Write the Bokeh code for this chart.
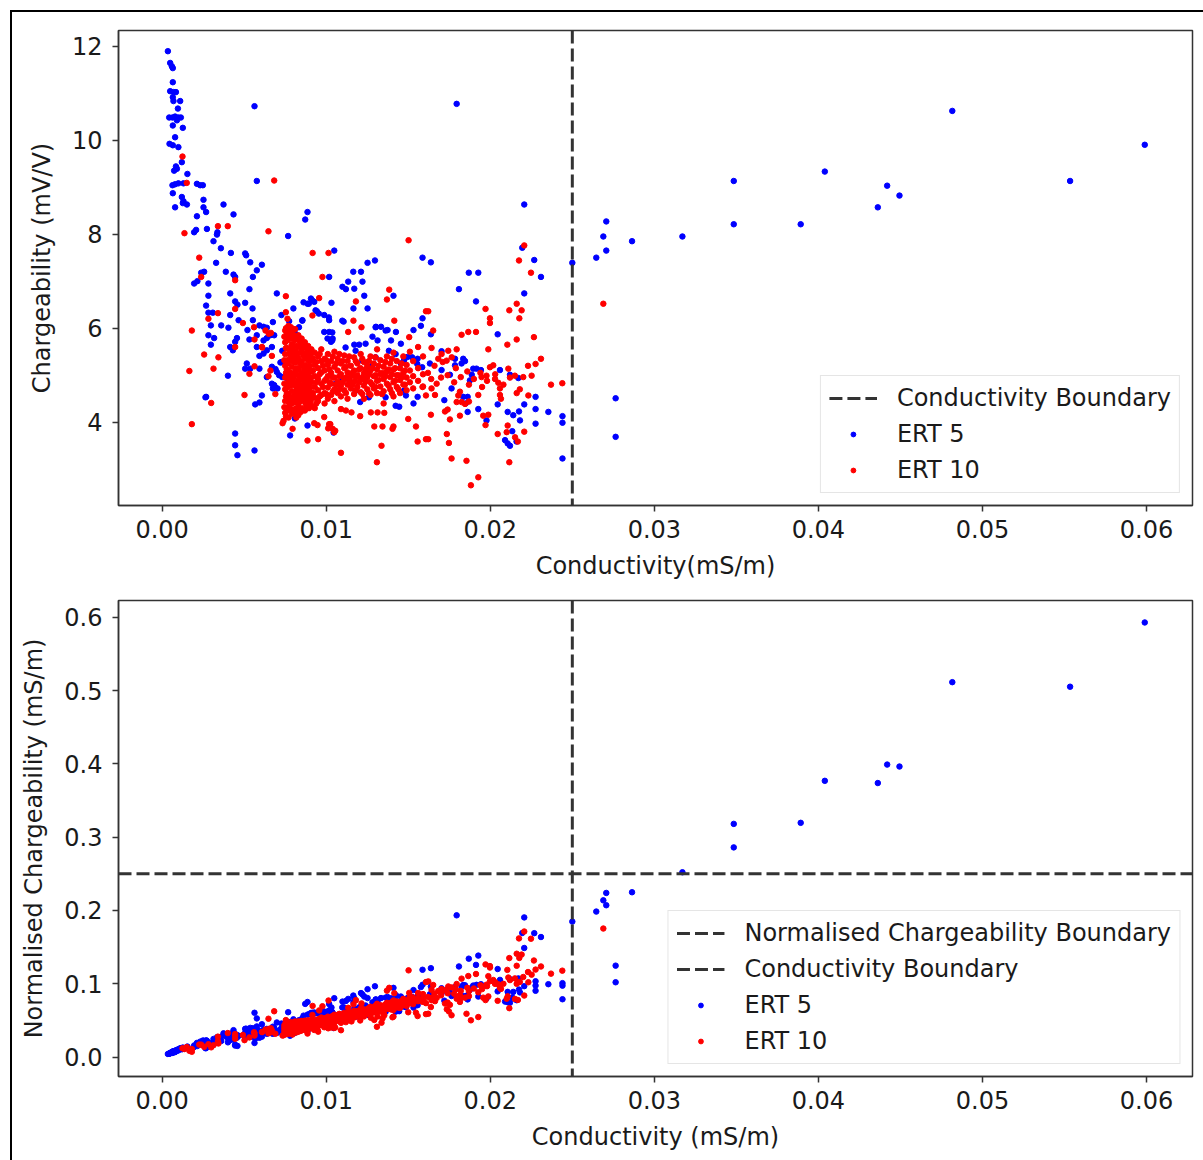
import numpy as np
from bokeh.plotting import figure
from bokeh.models import Range1d, Span, Legend, LegendItem, FixedTicker, NumeralTickFormatter
from bokeh.layouts import column
from bokeh.embed import file_html
from bokeh.resources import INLINE

# ---------------- data ----------------
conductivity_boundary = 0.025
normalised_boundary = 0.25

x_ticks = [0.00, 0.01, 0.02, 0.03, 0.04, 0.05, 0.06]
y_ticks_top = [4, 6, 8, 10, 12]
y_ticks_bottom = [0.0, 0.1, 0.2, 0.3, 0.4, 0.5, 0.6]

ert5_sigma = [
    0.00035, 0.00049, 0.00059, 0.00065, 0.00065, 0.00049, 0.00069, 0.00084, 0.00065, 0.00069,
    0.00110, 0.00096, 0.00043, 0.00063, 0.00079, 0.00099, 0.00114, 0.00090, 0.00065, 0.00126,
    0.00079, 0.00045, 0.00065, 0.00099, 0.00120, 0.00084, 0.00073, 0.00090, 0.00154, 0.00063,
    0.00079, 0.00099, 0.00130, 0.00212, 0.00232, 0.00248, 0.00065, 0.00120, 0.00130, 0.00151,
    0.00126, 0.00079, 0.00252, 0.00252, 0.00268, 0.00374, 0.00435, 0.00212, 0.00207, 0.00195,
    0.00273, 0.00337, 0.00334, 0.00313, 0.00358, 0.00419, 0.00506, 0.00512, 0.00537, 0.00608,
    0.00329, 0.00563, 0.00577, 0.00886, 0.00872, 0.00768, 0.01049, 0.01252, 0.01297, 0.01587,
    0.01795, 0.02207, 0.02195, 0.02268, 0.01638, 0.02500, 0.02646, 0.02707, 0.02689, 0.02707,
    0.02864, 0.03171, 0.03484, 0.03484, 0.03892, 0.04039, 0.04362, 0.04419, 0.04494, 0.04816,
    0.05534, 0.05989, 0.02764, 0.02764, 0.02440, 0.02440, 0.02440, 0.00238, 0.00256, 0.00195,
    0.00215, 0.00282, 0.00388, 0.00435, 0.00445, 0.00577, 0.00553, 0.00282, 0.00415, 0.00532,
    0.00445, 0.00506, 0.00459, 0.00268, 0.00551, 0.00282, 0.00309, 0.00415, 0.00466, 0.00553,
    0.00297, 0.00360, 0.00404, 0.00520, 0.00593, 0.00618, 0.00638, 0.00675, 0.00282, 0.00317,
    0.00297, 0.00456, 0.00445, 0.00532, 0.00577, 0.00618, 0.00638, 0.00659, 0.00415, 0.00431,
    0.00577, 0.00593, 0.00618, 0.00638, 0.00669, 0.00516, 0.00506, 0.00537, 0.00593, 0.00669,
    0.00638, 0.00669, 0.00675, 0.00401, 0.00268, 0.00608, 0.00567, 0.00593, 0.00445, 0.00445,
    0.00459, 0.00563, 0.01018, 0.01165, 0.01212, 0.01221, 0.01134, 0.01171, 0.01099, 0.01120,
    0.01232, 0.01166, 0.01252, 0.01410, 0.00699, 0.00907, 0.00886, 0.00927, 0.00943, 0.00862,
    0.00800, 0.00727, 0.00774, 0.00855, 0.01032, 0.00988, 0.01018, 0.01106, 0.00988, 0.01018,
    0.01008, 0.01039, 0.01029, 0.01303, 0.01334, 0.01374, 0.01425, 0.01282, 0.01313, 0.01395,
    0.01455, 0.01532, 0.01587, 0.01577, 0.01171, 0.01201, 0.00683, 0.00728, 0.00699, 0.00713,
    0.00683, 0.00703, 0.00764, 0.01476, 0.01496, 0.01455, 0.01557, 0.01282, 0.01252, 0.01207,
    0.01445, 0.01532, 0.01557, 0.01486, 0.00809, 0.00780, 0.00886, 0.01045, 0.00680, 0.00690,
    0.00780, 0.01057, 0.01098, 0.01138, 0.01179, 0.01260, 0.01362, 0.01423, 0.01474, 0.01524,
    0.01555, 0.01585, 0.01869, 0.01927, 0.02309, 0.01809, 0.02207, 0.01913, 0.01638, 0.02045,
    0.01703, 0.01785, 0.01835, 0.01825, 0.01785, 0.01846, 0.01896, 0.01916, 0.01943, 0.01887,
    0.01876, 0.02059, 0.02120, 0.02171, 0.01632, 0.01703, 0.01754, 0.01764, 0.01720, 0.02276,
    0.02207, 0.02276, 0.02354, 0.02276, 0.02175, 0.02140, 0.01835, 0.01862, 0.01850, 0.01862,
    0.01927, 0.02045, 0.02106, 0.02181, 0.02090, 0.02106, 0.02120, 0.02160, 0.02134, 0.01977,
    0.00732, 0.00762, 0.00783, 0.00691, 0.00721, 0.00732, 0.00813, 0.00834, 0.00894, 0.00915,
    0.00935, 0.00955, 0.00854, 0.01016, 0.01098, 0.01037, 0.01037, 0.01118, 0.01179, 0.01240,
    0.01301, 0.01362, 0.01220, 0.01260, 0.01301, 0.01382, 0.01423, 0.01474, 0.00264,
]
ert5_m = [
    11.89, 11.64, 11.57, 11.53, 11.23, 11.04, 11.02, 11.02, 10.91, 10.83,
    10.83, 10.67, 10.48, 10.48, 10.50, 10.48, 10.48, 10.42, 10.31, 10.26,
    10.06, 9.92, 9.89, 9.85, 9.53, 9.44, 9.35, 9.39, 9.28, 9.04,
    9.06, 9.08, 9.08, 9.07, 9.04, 9.04, 8.87, 8.79, 8.70, 8.63,
    8.66, 8.57, 8.73, 8.57, 8.47, 8.63, 8.42, 8.38, 8.09, 8.04,
    8.11, 8.04, 7.99, 7.85, 7.70, 7.60, 7.59, 7.55, 7.40, 7.35,
    7.39, 10.72, 9.13, 8.47, 8.31, 7.96, 7.65, 7.39, 7.44, 7.50,
    10.77, 8.63, 7.71, 7.45, 7.40, 7.39, 7.50, 7.65, 7.95, 8.27,
    7.85, 7.95, 8.21, 9.13, 8.21, 9.33, 8.57, 9.03, 8.82, 10.62,
    9.13, 9.90, 4.51, 3.69, 4.13, 3.99, 3.23, 7.18, 7.20, 6.95,
    7.00, 6.95, 7.20, 7.14, 7.09, 7.23, 7.09, 6.69, 6.74, 6.83,
    6.57, 6.54, 6.50, 6.48, 6.42, 6.33, 6.33, 6.28, 6.17, 6.17,
    6.06, 6.06, 6.01, 5.96, 6.06, 6.03, 6.01, 6.13, 5.85, 5.79,
    5.65, 5.79, 5.71, 5.76, 5.85, 5.74, 5.79, 5.85, 5.60, 5.53,
    5.60, 5.41, 5.46, 5.53, 5.60, 5.25, 5.14, 5.14, 5.14, 5.18,
    4.96, 4.82, 4.72, 4.99, 4.54, 4.57, 4.38, 4.42, 3.76, 3.51,
    3.30, 3.40, 7.09, 7.20, 7.20, 6.99, 6.99, 6.84, 6.88, 6.83,
    6.69, 6.42, 6.42, 6.69, 6.74, 6.63, 6.52, 6.56, 6.36, 6.55,
    6.42, 6.28, 6.15, 6.17, 6.54, 6.28, 6.17, 6.14, 5.92, 5.92,
    5.78, 5.78, 5.71, 6.03, 6.03, 5.96, 5.92, 5.82, 5.74, 5.74,
    5.67, 5.96, 6.21, 6.05, 5.65, 5.65, 5.85, 5.28, 5.07, 5.00,
    4.79, 4.72, 4.93, 5.35, 5.39, 5.25, 5.35, 5.21, 5.14, 4.43,
    4.33, 4.40, 4.54, 4.57, 4.08, 3.72, 3.93, 3.78, 4.77, 4.74,
    4.96, 4.82, 4.89, 4.92, 4.67, 4.53, 4.53, 4.35, 4.67, 5.38,
    5.24, 5.17, 7.18, 7.18, 7.09, 6.83, 6.74, 6.57, 5.87, 5.87,
    5.51, 5.35, 5.35, 5.25, 5.21, 5.30, 5.14, 5.14, 5.11, 5.01,
    4.89, 5.11, 5.01, 4.94, 5.25, 5.11, 5.01, 4.72, 4.47, 4.54,
    4.38, 4.28, 4.22, 3.97, 4.23, 4.15, 4.54, 4.54, 4.40, 4.22,
    4.28, 4.38, 4.22, 4.04, 3.62, 3.55, 3.50, 3.59, 3.81, 4.04,
    4.96, 5.03, 4.92, 5.13, 5.27, 5.52, 5.88, 6.02, 6.52, 6.59,
    6.38, 6.31, 6.16, 6.23, 6.16, 5.91, 5.74, 5.59, 5.52, 5.67,
    6.02, 5.95, 5.31, 5.17, 5.38, 5.52, 5.45, 5.31, 4.53,
]

ert10_sigma_scattered = [
    0.00124, 0.00150, 0.00136, 0.00340, 0.00400, 0.00648, 0.00683, 0.00226, 0.00917, 0.01014,
    0.01502, 0.02207, 0.02175, 0.02689, 0.02439, 0.02370, 0.00238, 0.00445, 0.00340, 0.00282,
    0.00445, 0.00492, 0.00181, 0.00563, 0.00608, 0.00663, 0.00669, 0.00445, 0.00256, 0.00343,
    0.00313, 0.00166, 0.00563, 0.00532, 0.00648, 0.00502, 0.00299, 0.00181, 0.00977, 0.01384,
    0.01370, 0.00754, 0.00957, 0.00916, 0.01166, 0.01215, 0.01134, 0.01415, 0.01506, 0.01608,
    0.00740, 0.00734, 0.00795, 0.00886, 0.00951, 0.00927, 0.00947, 0.00988, 0.01018, 0.01039,
    0.01049, 0.01012, 0.01090, 0.01309, 0.01337, 0.01293, 0.01343, 0.01410, 0.01404, 0.01272,
    0.01313, 0.01354, 0.01500, 0.01557, 0.01608, 0.01547, 0.01207, 0.01154, 0.01090, 0.01120,
    0.01587, 0.01608, 0.02248, 0.02161, 0.02116, 0.02191, 0.02177, 0.01971, 0.01998, 0.01998,
    0.01652, 0.01825, 0.01866, 0.01913, 0.02161, 0.02266, 0.02104, 0.01988, 0.01622, 0.01642,
    0.01795, 0.02309, 0.02276, 0.01744, 0.01703, 0.01683, 0.01734, 0.01765, 0.01998, 0.02018,
    0.01977, 0.01947, 0.02029, 0.02049, 0.02110, 0.02150, 0.02201, 0.02252, 0.02059, 0.02059,
    0.02065, 0.02161, 0.02232, 0.01724, 0.01740, 0.01815, 0.01754, 0.01638, 0.01622, 0.01957,
    0.01988, 0.01971, 0.02045, 0.02100, 0.02106, 0.02151, 0.02168, 0.02207, 0.01735, 0.01748,
    0.01764, 0.01855, 0.02116, 0.01882, 0.01927, 0.01815, 0.01805, 0.01825, 0.01846, 0.01870,
    0.01795, 0.01642, 0.01673, 0.01663, 0.01927, 0.01181, 0.00754, 0.00764, 0.00785, 0.00610,
    0.00650, 0.00560, 0.00630, 0.00660, 0.00690, 0.00818, 0.01025, 0.01055, 0.01620, 0.01640,
    0.01660, 0.01700, 0.01710, 0.01740, 0.01780, 0.01790, 0.01820, 0.01860, 0.01870, 0.01900,
    0.01940, 0.01950, 0.01980, 0.02030, 0.02080, 0.02120, 0.02180, 0.02230,
]
ert10_m_scattered = [
    9.65, 9.09, 8.02, 8.17, 8.17, 8.06, 9.14, 7.50, 7.60, 7.60,
    7.87, 7.76, 7.44, 6.52, 4.83, 4.80, 7.09, 7.02, 6.32, 6.20,
    6.41, 6.11, 5.95, 5.76, 5.60, 5.90, 5.41, 5.60, 5.44, 5.38,
    5.14, 5.09, 5.19, 5.03, 4.98, 4.58, 4.41, 3.96, 7.09, 6.82,
    6.61, 6.68, 6.64, 6.27, 6.16, 6.02, 5.92, 6.16, 5.81, 6.36,
    4.03, 3.98, 3.86, 3.61, 3.64, 3.98, 3.94, 4.11, 3.96, 3.86,
    3.79, 3.87, 3.35, 3.15, 3.50, 3.91, 3.91, 3.91, 3.86, 4.21,
    4.21, 4.20, 4.07, 3.59, 3.64, 3.91, 4.13, 4.21, 4.28, 4.25,
    4.75, 4.57, 7.18, 6.52, 6.38, 6.38, 6.21, 6.41, 6.21, 6.11,
    5.95, 5.86, 5.92, 5.92, 5.76, 5.81, 5.65, 5.55, 6.36, 5.58,
    5.55, 5.35, 5.24, 5.52, 5.45, 5.35, 5.31, 5.38, 5.17, 5.21,
    4.99, 4.96, 4.92, 4.84, 5.14, 4.99, 4.96, 4.99, 4.72, 4.58,
    4.50, 4.62, 4.57, 4.23, 4.27, 4.14, 4.06, 4.16, 3.64, 4.14,
    4.16, 3.94, 3.75, 3.79, 3.93, 3.68, 3.59, 3.80, 3.75, 3.56,
    3.23, 3.18, 3.15, 2.66, 2.83, 4.65, 4.57, 4.43, 4.39, 4.44,
    4.43, 4.72, 4.82, 4.58, 4.58, 6.57, 6.34, 6.20, 6.02, 5.59,
    5.88, 6.02, 5.95, 5.10, 4.60, 4.10, 3.96, 3.82, 5.05, 4.92,
    5.20, 4.95, 5.28, 5.00, 4.85, 5.15, 4.96, 5.08, 4.80, 4.92,
    5.05, 4.75, 4.88, 5.02, 4.80, 4.95, 4.70, 5.20,
]

# dense ERT 10 cluster: one conductivity column with its chargeability readings
ert10_cluster_sigma = [
    0.0075, 0.0076, 0.0077, 0.0078, 0.0079, 0.0080, 0.0081, 0.0082, 0.0083, 0.0084,
    0.0085, 0.0086, 0.0087, 0.0088, 0.0089, 0.0090, 0.0091, 0.0093, 0.0095, 0.0097,
    0.0099, 0.0101, 0.0103, 0.0105, 0.0107, 0.0109, 0.0111, 0.0113, 0.0115, 0.0117,
    0.0119, 0.0121, 0.0123, 0.0125, 0.0127, 0.0129, 0.0131, 0.0133, 0.0135, 0.0137,
    0.0139, 0.0141, 0.0143, 0.0145, 0.0147, 0.0149, 0.0151, 0.0153, 0.0156, 0.0159,
    0.00745, 0.00755, 0.00765, 0.00775, 0.00785, 0.00795, 0.00805, 0.00815, 0.00825, 0.00835,
    0.00845, 0.00855, 0.00865, 0.00875, 0.00885, 0.00895, 0.00905, 0.0092, 0.0094, 0.0096,
    0.0098, 0.0100, 0.0102, 0.0104, 0.0106, 0.0108, 0.0110, 0.0112, 0.0114, 0.0116,
    0.0118, 0.0120, 0.0122, 0.0124, 0.0126, 0.0128, 0.0130, 0.0132, 0.0134, 0.0136,
    0.0138, 0.0140, 0.0142, 0.0144, 0.0146, 0.0148,
]
ert10_cluster_m = [
    [5.95, 5.70, 5.45, 5.20, 4.95, 4.70, 4.45, 4.20],
    [5.88, 5.12, 4.62],
    [6.05, 5.82, 5.58, 5.33, 5.08, 4.83, 4.58, 4.32, 4.10],
    [5.52, 4.98, 4.48],
    [5.90, 5.66, 5.42, 5.18, 4.92, 4.66, 4.40, 4.18],
    [5.62, 5.30, 4.85, 4.55],
    [5.98, 5.75, 5.50, 5.27, 5.02, 4.78, 4.52, 4.28],
    [5.40, 5.15, 4.70, 4.42],
    [5.85, 5.60, 5.36, 5.12, 4.88, 4.62, 4.38, 4.15],
    [5.68, 4.98, 4.50],
    [5.78, 5.55, 5.30, 5.05, 4.80, 4.55, 4.30],
    [5.42, 5.18, 4.90, 4.62],
    [5.70, 5.45, 5.22, 4.98, 4.72, 4.48, 4.25],
    [5.58, 5.05, 4.78, 4.35],
    [5.62, 5.38, 5.15, 4.90, 4.66, 4.42],
    [5.45, 5.20, 4.96, 4.72, 4.50],
    [5.55, 5.32, 5.08, 4.85, 4.60, 4.35],
    [5.48, 5.22, 4.98, 4.75, 4.52, 4.30],
    [5.40, 5.15, 4.92, 4.68, 4.45],
    [5.55, 5.30, 5.06, 4.82, 4.58],
    [5.35, 5.10, 4.88, 4.62, 4.40],
    [5.45, 5.22, 4.98, 4.74, 4.50],
    [5.30, 5.05, 4.82, 4.58],
    [5.50, 5.18, 4.95, 4.70, 4.45],
    [5.35, 5.10, 4.86, 4.62],
    [5.25, 5.02, 4.78, 4.55],
    [5.42, 5.15, 4.92, 4.68],
    [5.30, 5.06, 4.80, 4.50],
    [5.20, 4.98, 4.72],
    [5.38, 5.10, 4.86, 4.60],
    [5.25, 5.00, 4.75],
    [5.45, 5.15, 4.90, 4.64],
    [5.28, 5.04, 4.78, 4.50],
    [5.20, 4.95, 4.70],
    [5.40, 5.10, 4.85, 4.58],
    [5.25, 4.98, 4.72],
    [5.55, 5.12, 4.88, 4.62],
    [5.32, 5.02, 4.76],
    [5.18, 4.92, 4.66, 4.40],
    [5.40, 5.08, 4.82],
    [5.25, 4.96, 4.70],
    [5.48, 5.12, 4.85, 4.55],
    [5.30, 5.00, 4.75],
    [5.15, 4.90, 4.62],
    [5.40, 5.05, 4.80],
    [5.22, 4.95, 4.68],
    [5.50, 5.10, 4.85],
    [5.30, 4.98, 4.72],
    [5.60, 5.15, 4.88],
    [5.40, 5.02, 4.76],
    [5.82, 5.32, 4.82, 4.32],
    [6.00, 5.58, 5.05, 4.55, 4.12],
    [5.75, 5.25, 4.75, 4.25],
    [5.95, 5.45, 4.90, 4.40],
    [5.78, 5.30, 4.78, 4.28],
    [5.55, 5.05, 4.52],
    [5.85, 5.40, 4.95, 4.42],
    [5.62, 5.10, 4.62, 4.20],
    [5.78, 5.28, 4.80, 4.30],
    [5.48, 5.00, 4.55],
    [5.72, 5.22, 4.72, 4.22],
    [5.48, 4.95, 4.45],
    [5.62, 5.10, 4.60],
    [5.35, 4.85, 4.40],
    [5.50, 5.00, 4.55],
    [5.30, 4.80, 4.30],
    [5.40, 4.92, 4.45],
    [5.35, 5.10, 4.62],
    [5.28, 4.85, 4.40],
    [5.45, 5.02, 4.55],
    [5.20, 4.75],
    [5.32, 4.92, 4.60],
    [5.12, 4.85],
    [5.40, 4.95, 4.65],
    [5.25, 4.80],
    [5.45, 4.98, 4.70],
    [5.30, 4.85],
    [5.18, 4.95, 4.62],
    [5.40, 4.88],
    [5.05, 4.80],
    [5.30, 4.95, 4.68],
    [5.12, 4.85],
    [5.35, 4.95, 4.60],
    [5.12, 4.86],
    [5.30, 5.02, 4.62],
    [5.15, 4.80],
    [5.38, 5.00, 4.75],
    [5.20, 4.90],
    [5.05, 4.60],
    [5.28, 4.98],
    [5.12, 4.78],
    [5.35, 5.02, 4.62],
    [5.15, 4.88],
    [5.00, 4.70],
    [5.25, 4.95],
    [5.10, 4.80],
]

# ---------------- assemble ----------------
s5 = np.array(ert5_sigma)
m5 = np.array(ert5_m)
cl_s = [s for s, ms in zip(ert10_cluster_sigma, ert10_cluster_m) for _ in ms]
cl_m = [v for ms in ert10_cluster_m for v in ms]
s10 = np.array(ert10_sigma_scattered + cl_s)
m10 = np.array(ert10_m_scattered + cl_m)
n5 = s5 * m5      # normalised chargeability = chargeability x conductivity
n10 = s10 * m10

FONT = "DejaVu Sans"
FS = "24px"
TXT = "#1a1a1a"
LINE = "#333333"
BLUE = "#0000ff"
RED = "#ff0000"
DASH = "13 5"
X_RANGE = (-0.00266, 0.0628)
MS = 5.5


def style(p, yticks, yfmt, xlabel, ylabel):
    p.xgrid.visible = False
    p.ygrid.visible = False
    p.outline_line_color = "#333333"
    p.outline_line_width = 1.5
    p.background_fill_color = "white"
    p.border_fill_color = "white"
    p.xaxis.ticker = FixedTicker(ticks=x_ticks)
    p.xaxis.formatter = NumeralTickFormatter(format="0.00")
    p.yaxis.ticker = FixedTicker(ticks=yticks)
    p.yaxis.formatter = NumeralTickFormatter(format=yfmt)
    p.xaxis.axis_label = xlabel
    p.yaxis.axis_label = ylabel
    for ax in (p.xaxis[0], p.yaxis[0]):
        ax.axis_line_color = "#333333"
        ax.axis_line_width = 1.5
        ax.major_tick_line_color = "#333333"
        ax.major_tick_line_width = 1.5
        ax.major_tick_out = 6
        ax.major_tick_in = 0
        ax.minor_tick_line_color = None
        ax.major_label_text_font = FONT
        ax.major_label_text_font_size = FS
        ax.major_label_text_color = TXT
        ax.axis_label_text_font = FONT
        ax.axis_label_text_font_size = FS
        ax.axis_label_text_font_style = "normal"
        ax.axis_label_text_color = TXT
    p.xaxis.major_label_standoff = 8
    p.yaxis.major_label_standoff = 10
    p.xaxis.axis_label_standoff = 11
    p.yaxis.axis_label_standoff = 13


def make_legend(items):
    lg = Legend(items=items, location="bottom_right")
    lg.label_text_font = FONT
    lg.label_text_font_size = FS
    lg.label_text_color = TXT
    lg.glyph_width = 48
    lg.glyph_height = 12
    lg.label_height = 26
    lg.label_standoff = 20
    lg.spacing = 8
    lg.padding = 8
    lg.margin = 12
    lg.border_line_color = "#cccccc"
    lg.border_line_width = 1.5
    lg.background_fill_alpha = 0.85
    return lg


def legend_line(p):
    # a one-point line draws nothing in the plot; it only supplies the legend glyph
    return p.line(x=[conductivity_boundary], y=[np.nan], line_color=LINE,
                  line_dash=DASH, line_width=3)


# ---------------- top plot ----------------
p1 = figure(width=1191, height=573, output_backend="svg", toolbar_location=None,
            x_range=Range1d(*X_RANGE), y_range=Range1d(2.23, 12.33),
            min_border_left=106, min_border_right=11, min_border_top=18, min_border_bottom=80)
style(p1, y_ticks_top, "0", "Conductivity(mS/m)", "Chargeability (mV/V)")
p1.add_layout(Span(location=conductivity_boundary, dimension="height",
                   line_color=LINE, line_dash=DASH, line_width=3))
d1 = legend_line(p1)
b1 = p1.scatter(s5, m5, size=MS, color=BLUE, marker="circle")
r1 = p1.scatter(s10, m10, size=MS, color=RED, marker="circle")
p1.add_layout(make_legend([
    LegendItem(label="Conductivity Boundary", renderers=[d1]),
    LegendItem(label="ERT 5", renderers=[b1]),
    LegendItem(label="ERT 10", renderers=[r1]),
]))

# ---------------- bottom plot ----------------
p2 = figure(width=1191, height=575, output_backend="svg", toolbar_location=None,
            x_range=Range1d(*X_RANGE), y_range=Range1d(-0.0266, 0.6229),
            min_border_left=106, min_border_right=11, min_border_top=15, min_border_bottom=84)
style(p2, y_ticks_bottom, "0.0", "Conductivity (mS/m)", "Normalised Chargeability (mS/m)")
p2.add_layout(Span(location=normalised_boundary, dimension="width",
                   line_color=LINE, line_dash=DASH, line_width=3))
p2.add_layout(Span(location=conductivity_boundary, dimension="height",
                   line_color=LINE, line_dash=DASH, line_width=3))
d2a = legend_line(p2)
d2b = legend_line(p2)
b2 = p2.scatter(s5, n5, size=MS, color=BLUE, marker="circle")
r2 = p2.scatter(s10, n10, size=MS, color=RED, marker="circle")
p2.add_layout(make_legend([
    LegendItem(label="Normalised Chargeability Boundary", renderers=[d2a]),
    LegendItem(label="Conductivity Boundary", renderers=[d2b]),
    LegendItem(label="ERT 5", renderers=[b2]),
    LegendItem(label="ERT 10", renderers=[r2]),
]))

layout = column(p1, p2, margin=(10, 0, 0, 10),
                styles={"border-left": "2px solid black", "border-top": "2px solid black"})

open("out.html", "w").write(file_html(layout, INLINE))
